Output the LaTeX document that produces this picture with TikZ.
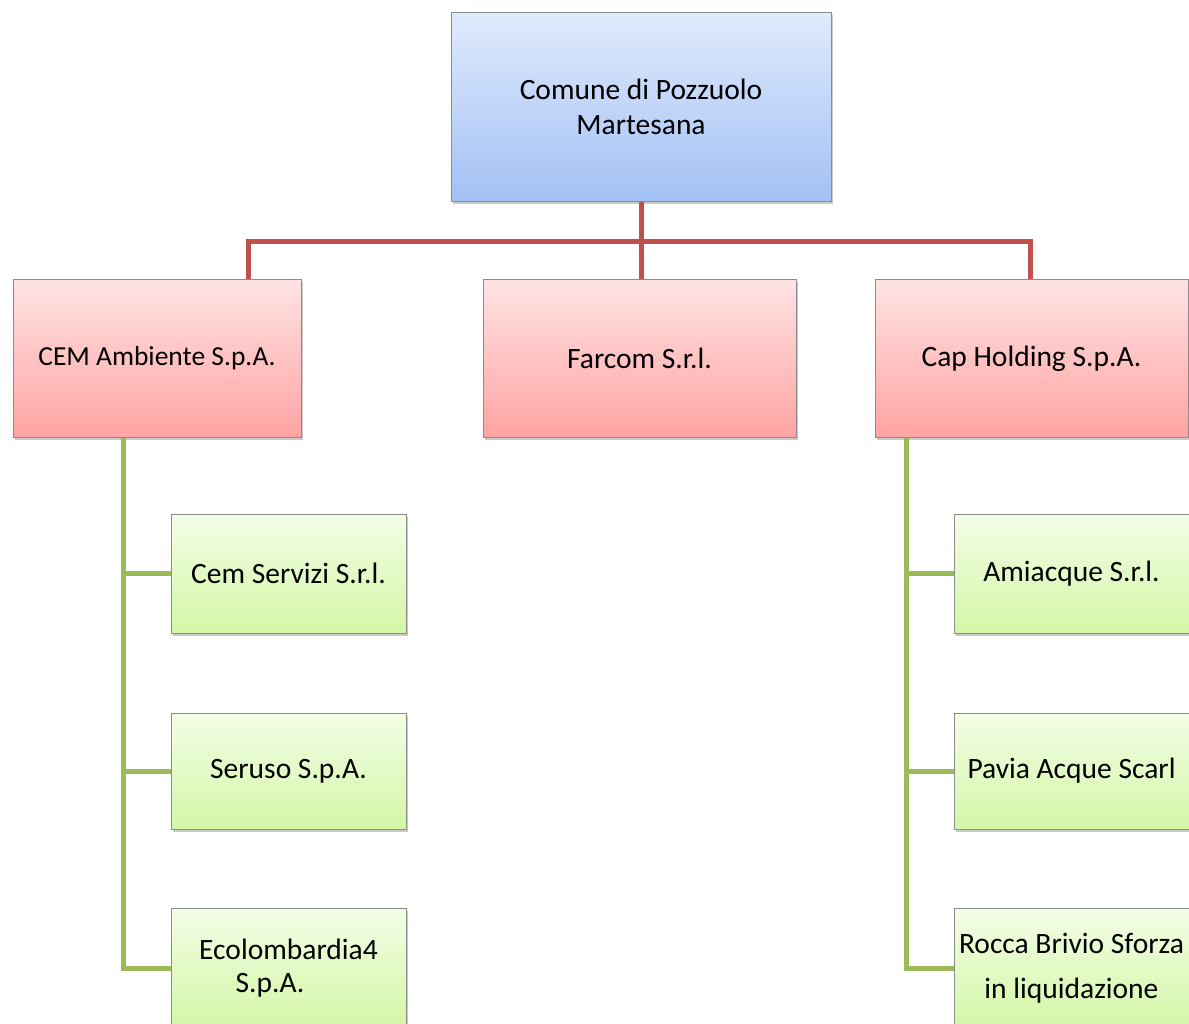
\documentclass[tikz,border=0pt]{standalone}
\usepackage{fontspec}
\setmainfont{Carlito}
\usetikzlibrary{shadows,calc}
\definecolor{redline}{HTML}{C0504D}
\definecolor{greenline}{HTML}{9BBB59}
\definecolor{boxborder}{HTML}{8C8C8C}
\definecolor{bluetop}{HTML}{E0EAFC}
\definecolor{bluebot}{HTML}{A3C1F5}
\definecolor{redtop}{HTML}{FFE3E3}
\definecolor{redbot}{HTML}{FFA3A3}
\definecolor{greentop}{HTML}{F3FDE6}
\definecolor{greenbot}{HTML}{D3F7A6}
\tikzset{
  basebox/.style={draw=boxborder, line width=1pt, inner sep=0pt, align=center,
    font=\fontsize{29.5}{35}\selectfont,
    drop shadow={opacity=0.35, shadow xshift=1.5pt, shadow yshift=-2.5pt, fill=black!60}},
  bluebox/.style={basebox, top color=bluetop, bottom color=bluebot, minimum width=380pt, minimum height=189pt},
  redbox/.style={basebox, top color=redtop, bottom color=redbot, minimum height=158pt},
  greenbox/.style={basebox, top color=greentop, bottom color=greenbot, minimum width=235pt},
  redconn/.style={draw=redline, line width=5pt},
  greenconn/.style={draw=greenline, line width=5pt},
}
\begin{document}
\begin{tikzpicture}[x=1pt,y=-1pt]
\useasboundingbox (0,0) rectangle (1189,1023);
\clip (0,0) rectangle (1189,1023);
\fill[white] (0,0) rectangle (1189,1023);

\coordinate (busL) at (248.5,241.5);
\coordinate (busR) at (1030,241.5);
\coordinate (gL) at (123.5,0);
\coordinate (gR) at (906,0);

% nodes
\node[bluebox] (top) at (641,106.5) {Comune di Pozzuolo\\Martesana};
\node[redbox, minimum width=288pt, font=\fontsize{27.5}{35}\selectfont] (cem) at (157,358) {CEM Ambiente S.p.A.};
\node[redbox, minimum width=313pt] (farcom) at (639.5,358.5) {Farcom S.r.l.};
\node[redbox, minimum width=313pt] (cap) at (1031.5,358.5) {Cap Holding S.p.A.};

\node[greenbox, minimum height=119pt] (cems) at (288.5,573.5) {Cem Servizi S.r.l.};
\node[greenbox, minimum height=116pt] (seruso) at (288.5,771) {Seruso S.p.A.};
\node[greenbox, minimum height=120pt, font=\fontsize{29.5}{33}\selectfont] (eco) at (288.5,968) {Ecolombardia4\\S.p.A.\hspace*{37pt}};

\node[greenbox, minimum height=119pt] (amia) at (1071.5,573.5) {Amiacque S.r.l.};
\node[greenbox, minimum height=116pt] (pavia) at (1071.5,771) {Pavia Acque Scarl};
\node[greenbox, minimum height=120pt, font=\fontsize{29.5}{45}\selectfont] (rocca) at (1071.5,968) {Rocca Brivio Sforza\\in liquidazione};

% red connectors
\draw[redconn] (top.south) -- (top.south |- farcom.north);
\draw[redconn] (busL |- cem.north) -- (busL) -- (busR) -- (busR |- cap.north);

% green connectors
\draw[greenconn] (gL |- cem.south) -- (gL |- eco.west) -- (eco.west);
\draw[greenconn] (gL |- cems.west) -- (cems.west);
\draw[greenconn] (gL |- seruso.west) -- (seruso.west);
\draw[greenconn] (gR |- cap.south) -- (gR |- rocca.west) -- (rocca.west);
\draw[greenconn] (gR |- amia.west) -- (amia.west);
\draw[greenconn] (gR |- pavia.west) -- (pavia.west);
\end{tikzpicture}
\end{document}
